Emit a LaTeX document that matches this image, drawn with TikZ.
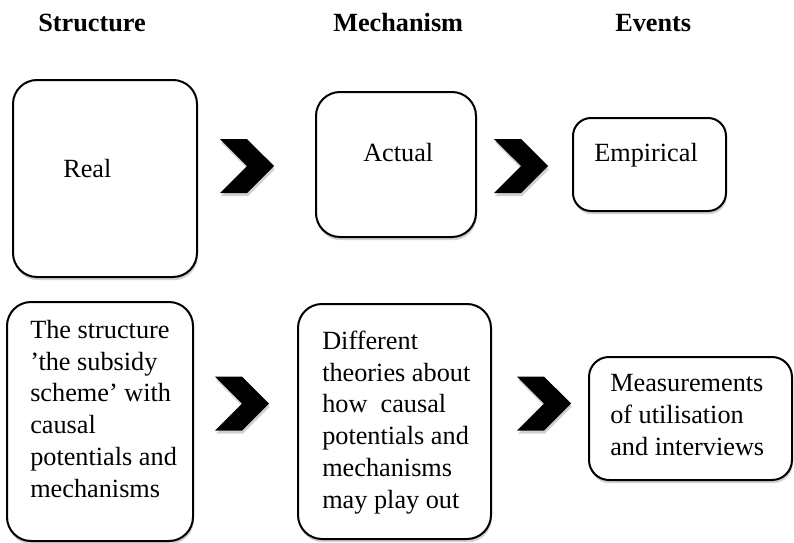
\documentclass[tikz,border=0pt]{standalone}
\usepackage{fontspec}
\setmainfont{Liberation Serif}
\usetikzlibrary{shapes.symbols,shadows}

\tikzset{
  softshadow/.style={drop shadow={shadow xshift=0.6pt, shadow yshift=-2.4pt, opacity=0.3, fill=black!60}},
  box/.style={draw, line width=1.5pt, rounded corners=18pt, fill=white, inner sep=0pt, softshadow},
  chevron/.style={signal, signal from=west, signal to=east, signal pointer angle=90,
    fill=black, inner sep=0pt, minimum width=40.5pt, minimum height=40.5pt, softshadow},
  boxtext/.style={anchor=base west, inner sep=0pt, align=left, font=\fontsize{19.7}{23.8}\selectfont},
  heading/.style={anchor=base west, inner sep=0pt, font=\fontsize{19.7}{23.8}\selectfont\bfseries}
}

\begin{document}
\begin{tikzpicture}[x=0.75pt, y=-0.75pt]
    \useasboundingbox (0,0) rectangle (794,543);

    % Headings
    \foreach \x/\name/\txt in {38/hStructure/Structure, 333/hMechanism/Mechanism, 615/hEvents/Events}
    \node[heading] (\name) at (\x,31) {\txt};

    % Top row
    \node[box, minimum width=138pt, minimum height=147.75pt] (real) at (105,178.5) {};
    \node[box, minimum width=120pt, minimum height=108.75pt] (actual) at (396,164.5) {};
    \node[box, rounded corners=13.5pt, minimum width=114.75pt, minimum height=69.75pt] (empirical) at (649.5,164.5) {};

    \node[boxtext] (tReal) at (63,177) {Real};
    \node[boxtext] (tActual) at (363,161) {Actual};
    \node[boxtext] (tEmpirical) at (594,161) {Empirical};

    % Bottom row (text anchored at the last line)
    \node[box, minimum width=139.5pt, minimum height=179.25pt] (structure) at (100,421.5) {};
    \node[box, minimum width=144.75pt, minimum height=176.25pt] (theories) at (394.5,421.5) {};
    \node[box, rounded corners=15pt, minimum width=152.25pt, minimum height=92.25pt] (measures) at (690.5,418.5) {};

    \node[boxtext] (tStructure) at (30,497) {The structure\\’the subsidy\\scheme’ with\\causal\\potentials and\\mechanisms};
    \node[boxtext] (tTheories) at (322,508) {Different\\theories about\\how\ \ causal\\potentials and\\mechanisms\\may play out};
    \node[boxtext] (tMeasures) at (610,455) {Measurements\\of utilisation\\and interviews};

    % Chevrons
    \foreach \x/\y/\name in {247/166/chevA, 521/166/chevB, 242/403.5/chevC, 544/403.5/chevD}
    \node[chevron] (\name) at (\x,\y) {};
\end{tikzpicture}
\end{document}
